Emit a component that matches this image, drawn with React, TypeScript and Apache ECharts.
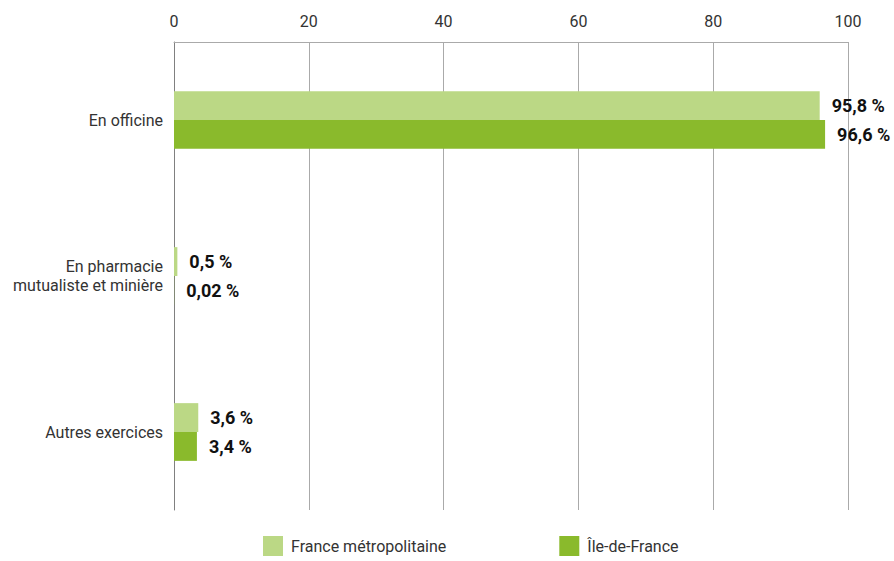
import React, { useEffect, useRef } from "react";
import * as echarts from "echarts";

const categories = ["En officine", "En pharmacie\nmutualiste et minière", "Autres exercices"];
const seriesNames = ["France métropolitaine", "Île-de-France"];
const franceValues = [95.8, 0.5, 3.6];
const idfValues = [96.6, 0.02, 3.4];
const colors = ["#bbd885", "#8aba2c"];

export default function App() {
  const ref = useRef<HTMLDivElement>(null);
  useEffect(() => {
    document.body.style.margin = "0";
    if (!ref.current) return;
    const chart = echarts.init(ref.current, null, { renderer: "svg" });
    const label = {
      show: true,
      position: "right",
      distance: 12,
      color: "#111",
      fontFamily: "Roboto",
      fontWeight: "bold",
      fontSize: 18,
      formatter: (p: any) => String(p.value).replace(".", ",") + " %",
    };
    chart.setOption({
      animation: false,
      textStyle: { fontFamily: "Roboto" },
      grid: { left: 174, right: 46, top: 42, bottom: 51, containLabel: false },
      legend: {
        bottom: 0,
        left: 258,
        itemWidth: 20,
        itemHeight: 20,
        itemGap: 113,
        icon: "rect",
        textStyle: { fontFamily: "Roboto", fontSize: 16, color: "#333", padding: [0, 0, 0, 3] },
        data: seriesNames,
      },
      xAxis: {
        type: "value",
        position: "top",
        min: 0,
        max: 100,
        interval: 20,
        axisLine: { show: true, lineStyle: { color: "#aaa" } },
        axisTick: { show: false },
        axisLabel: { color: "#333", fontSize: 16, margin: 13, fontFamily: "Roboto" },
        splitLine: { show: true, lineStyle: { color: "#aaa" } },
      },
      yAxis: {
        type: "category",
        data: categories,
        inverse: true,
        axisLine: { show: true, lineStyle: { color: "#808080" } },
        axisTick: { show: false },
        axisLabel: { color: "#333", fontSize: 16, margin: 11, lineHeight: 19, align: "right", fontFamily: "Roboto" },
      },
      series: [
        {
          name: seriesNames[0],
          type: "bar",
          data: franceValues,
          itemStyle: { color: colors[0] },
          barGap: "0%",
          barCategoryGap: "63%",
          label,
        },
        {
          name: seriesNames[1],
          type: "bar",
          data: idfValues,
          itemStyle: { color: colors[1] },
          barGap: "0%",
          barCategoryGap: "63%",
          label,
        },
      ],
    });
    return () => chart.dispose();
  }, []);
  return <div ref={ref} style={{ width: 894, height: 561 }} />;
}
